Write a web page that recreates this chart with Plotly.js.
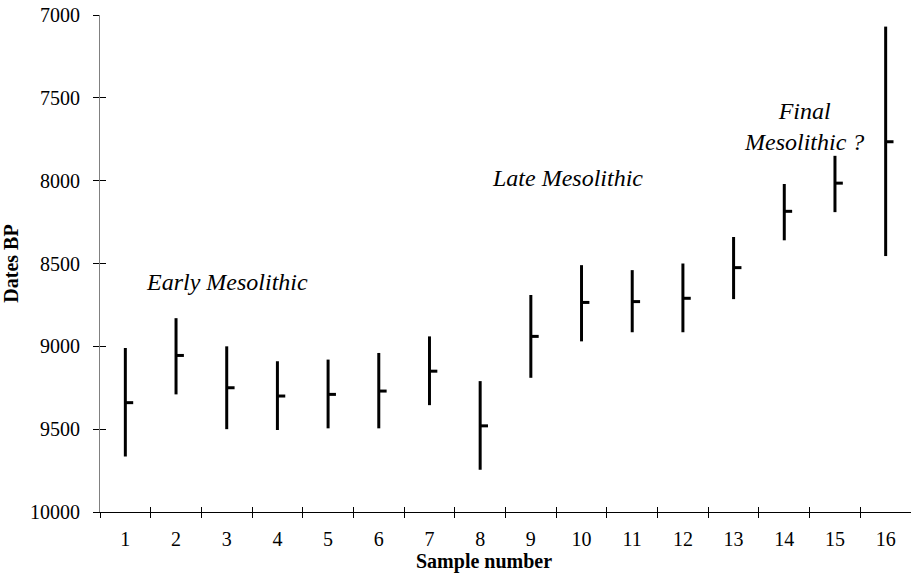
<!DOCTYPE html>
<html>
<head>
<meta charset="utf-8">
<script src="https://cdn.plot.ly/plotly-3.0.1.min.js"></script>
<style>html,body{margin:0;padding:0;background:#fff;}#chart{width:911px;height:575px;}</style>
</head>
<body>
<div id="chart"></div>
<script>
// Sample numbers
const samples = [1, 2, 3, 4, 5, 6, 7, 8, 9, 10, 11, 12, 13, 14, 15, 16];
// Youngest end of each date range (top of bar, years BP)
const rangeYoung = [9010, 8830, 9000, 9090, 9080, 9040, 8940, 9210, 8690, 8510, 8540, 8500, 8340, 8020, 7850, 7070];
// Oldest end of each date range (bottom of bar, years BP)
const rangeOld = [9665, 9290, 9500, 9505, 9495, 9495, 9355, 9745, 9190, 8970, 8915, 8915, 8715, 8360, 8190, 8455];
// Central date (right-hand tick, years BP)
const centralDate = [9340, 9055, 9250, 9300, 9290, 9270, 9150, 9480, 8940, 8735, 8730, 8710, 8525, 8185, 8015, 7765];
// Y tick values
const yTicks = [7000, 7500, 8000, 8500, 9000, 9500, 10000];

const plusErr = centralDate.map((c, i) => rangeOld[i] - c);
const minusErr = centralDate.map((c, i) => c - rangeYoung[i]);

const serif = 'Liberation Serif, Times New Roman, serif';

function ghost(xa, ya) {
  return {type: 'scatter', mode: 'markers', x: samples, y: centralDate,
          xaxis: xa, yaxis: ya, marker: {size: 1, opacity: 0},
          hoverinfo: 'skip', showlegend: false};
}

const traces = [
  {
    type: 'scatter',
    mode: 'markers',
    x: samples,
    y: centralDate,
    marker: {size: 1, color: 'black'},
    error_y: {type: 'data', symmetric: false, array: plusErr, arrayminus: minusErr,
              color: 'black', thickness: 3, width: 0},
    error_x: {type: 'constant', symmetric: false, value: 0.155, valueminus: 0,
              color: 'black', thickness: 3, width: 0, copy_ystyle: false},
    hoverinfo: 'skip',
    showlegend: false
  },
  ghost('x2', 'y2'),
  ghost('x3', 'y')
];

const boundaryTicks = {
  range: [0.5, 16.5],
  tickmode: 'linear',
  tick0: 0.5,
  dtick: 1,
  ticklen: 5,
  tickwidth: 1,
  tickcolor: 'black',
  showticklabels: false,
  showline: false,
  showgrid: false,
  zeroline: false,
  overlaying: 'x',
  side: 'bottom'
};

const italicFont = {family: serif, size: 24, style: 'italic', color: 'black'};

const layout = {
  width: 911,
  height: 575,
  margin: {l: 100, r: 0, t: 15, b: 63},
  paper_bgcolor: '#fff',
  plot_bgcolor: '#fff',
  font: {family: serif, color: 'black', size: 20},
  showlegend: false,
  xaxis: {
    range: [0.5, 16.5],
    tickmode: 'array',
    tickvals: samples,
    ticktext: samples.map(String),
    ticks: '',
    showline: true,
    linecolor: 'black',
    linewidth: 1,
    showgrid: false,
    zeroline: false,
    ticklabelstandoff: 9,
    tickfont: {family: serif, size: 20, color: 'black'},
    anchor: 'y'
  },
  xaxis2: Object.assign({}, boundaryTicks, {anchor: 'y2', ticks: 'outside'}),
  xaxis3: Object.assign({}, boundaryTicks, {anchor: 'y', ticks: 'inside'}),
  yaxis: {
    range: [10000, 7000],
    tickmode: 'array',
    tickvals: yTicks,
    ticktext: yTicks.map(String),
    ticks: 'outside',
    ticklen: 6,
    tickwidth: 1,
    tickcolor: 'black',
    showline: true,
    linecolor: '#808080',
    linewidth: 1,
    showgrid: false,
    zeroline: false,
    ticklabelstandoff: 9,
    tickfont: {family: serif, size: 20, color: 'black'},
    anchor: 'x',
    title: {text: '<b>Dates BP</b>', font: {family: serif, size: 20, color: 'black'}, standoff: 6}
  },
  yaxis2: {
    range: [10000, 7000],
    tickmode: 'array',
    tickvals: yTicks,
    overlaying: 'y',
    anchor: 'x2',
    side: 'left',
    ticks: 'inside',
    ticklen: 6,
    tickwidth: 1,
    tickcolor: 'black',
    showticklabels: false,
    showline: false,
    showgrid: false,
    zeroline: false
  },
  annotations: [
    {text: 'Early Mesolithic', x: 3.015, y: 8612, xref: 'x', yref: 'y',
     showarrow: false, font: italicFont},
    {text: 'Late Mesolithic', x: 9.72, y: 7984, xref: 'x', yref: 'y',
     showarrow: false, font: italicFont},
    {text: 'Final<br>Mesolithic ?', x: 14.38, y: 7673, xref: 'x', yref: 'y',
     showarrow: false, align: 'center', font: italicFont},
    {text: '<b>Sample number</b>', x: 0.4735, y: -0.1006, xref: 'paper', yref: 'paper',
     xanchor: 'center', yanchor: 'middle', showarrow: false,
     font: {family: serif, size: 20, color: 'black'}}
  ]
};

Plotly.newPlot('chart', traces, layout, {displayModeBar: false, staticPlot: true});
</script>
</body>
</html>
